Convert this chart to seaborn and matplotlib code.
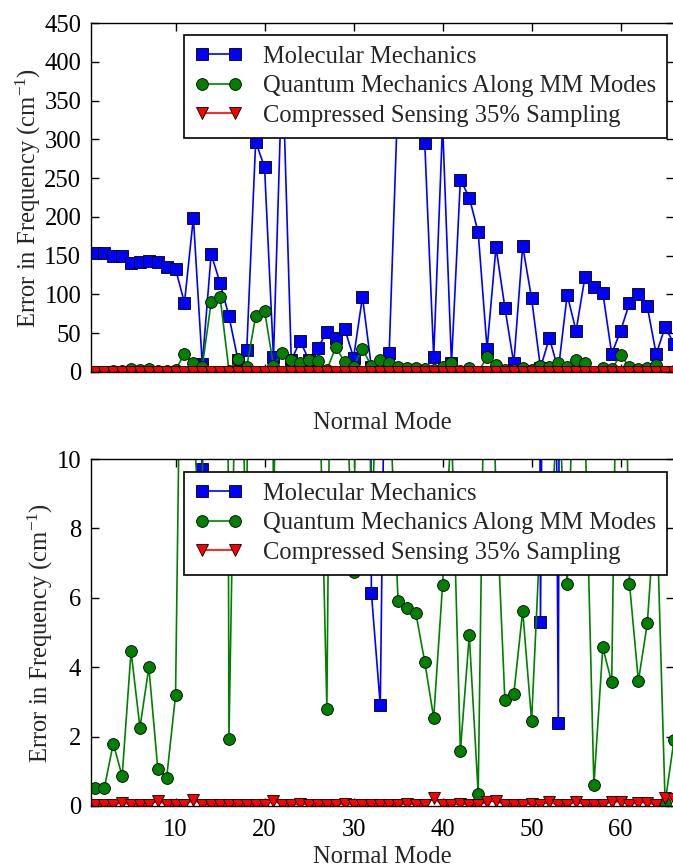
import numpy as np
import pandas as pd
import matplotlib
matplotlib.use("Agg")
import matplotlib.pyplot as plt
import seaborn as sns

modes = list(range(1, 67))

molecular_mechanics = [
    154, 153, 149, 149, 140, 142, 143.5, 142, 136, 133,
    89, 199, 9.7, 152, 115, 72, 16, 29, 297, 264,
    19, 400, 15, 40, 15, 31, 52, 44, 56, 18.5,
    97, 6.15, 2.9, 24, 362, 400, 344, 295, 19, 320,
    11, 248, 225, 180, 30, 161, 83, 11, 162.5, 95,
    5.3, 44, 2.4, 99.6, 53, 123, 110, 102.5, 23.5, 53,
    89, 100.5, 84.5, 23, 58, 36.5,
]

quantum_mm_modes = [
    0.53, 0.52, 1.8, 0.86, 4.46, 2.26, 4.0, 1.08, 0.82, 3.19,
    23, 11, 7, 90, 97, 1.93, 17, 7, 72, 79,
    8, 25, 15, 11, 15.5, 14, 2.8, 32, 13, 6.75,
    30, 7.5, 16, 12, 5.9, 5.7, 5.55, 4.15, 2.54, 6.37,
    11, 1.58, 4.92, 0.36, 19, 9, 3.05, 3.22, 5.63, 2.45,
    8, 7, 12, 6.4, 15, 11, 0.6, 4.57, 3.56, 22,
    6.4, 3.6, 5.26, 9, 0.1, 1.9,
]

compressed_sensing = [
    0.03, 0.03, 0.03, 0.10, 0.04, 0.03, 0.03, 0.15, 0.03, 0.03,
    0.03, 0.18, 0.04, 0.03, 0.03, 0.03, 0.03, 0.03, 0.03, 0.03,
    0.15, 0.03, 0.03, 0.07, 0.03, 0.03, 0.03, 0.03, 0.07, 0.03,
    0.03, 0.03, 0.03, 0.03, 0.03, 0.07, 0.03, 0.03, 0.22, 0.03,
    0.03, 0.07, 0.03, 0.03, 0.12, 0.15, 0.03, 0.03, 0.03, 0.07,
    0.03, 0.12, 0.03, 0.03, 0.12, 0.03, 0.03, 0.03, 0.12, 0.12,
    0.03, 0.10, 0.10, 0.03, 0.22, 0.20,
]

labels = [
    "Molecular Mechanics",
    "Quantum Mechanics Along MM Modes",
    "Compressed Sensing 35% Sampling",
]
top_yticks = [0, 50, 100, 150, 200, 250, 300, 350, 400, 450]
bottom_yticks = [0, 2, 4, 6, 8, 10]
xticks = [10, 20, 30, 40, 50, 60]

sns.set_theme(style="ticks")
FS = 17.7
plt.rcParams["font.family"] = ["Liberation Serif", "DejaVu Serif"]
plt.rcParams["mathtext.fontset"] = "custom"
plt.rcParams["mathtext.rm"] = "Liberation Serif"
plt.rcParams["mathtext.it"] = "Liberation Serif:italic"
plt.rcParams["axes.edgecolor"] = "black"
plt.rcParams["axes.linewidth"] = 1.0

W, H = 673, 867
fig = plt.figure(figsize=(W / 100, H / 100), dpi=100)

def fx(px):
    return px / W

def fy(py):
    return 1 - py / H

left_px, right_px = 91, 674
ax_w = right_px - left_px
ax_top = fig.add_axes([fx(left_px), fy(372), fx(ax_w), (372 - 23) / H])
ax_bot = fig.add_axes([fx(left_px), fy(806), fx(ax_w), (806 - 459) / H])

df = pd.DataFrame({
    "mode": modes,
    "mm": molecular_mechanics,
    "qm": quantum_mm_modes,
    "cs": compressed_sensing,
})

series = [
    ("mm", "s", "#0000ff", labels[0]),
    ("qm", "o", "#008000", labels[1]),
    ("cs", "v", "#ff0000", labels[2]),
]

for ax, ylim, yticks, invisible_xlabels, ax_top_px, ax_h_px, leg_top_px in [
    (ax_top, (0, 450), top_yticks, True, 23, 349, 35),
    (ax_bot, (0, 10), bottom_yticks, False, 459, 347, 472),
]:
    for col, mk, colr, lab in series:
        sns.lineplot(
            data=df, x="mode", y=col, ax=ax, color=colr, marker=mk,
            markersize=8.5, markeredgecolor="black", markeredgewidth=0.6,
            linewidth=1.2, label=lab, estimator=None, sort=False,
        )
    ax.set_xlim(0.5, 66)
    ax.set_ylim(*ylim)
    ax.set_yticks(yticks)
    ax.set_xticks(xticks)
    ax.tick_params(direction="in", length=6, width=1.0, top=True, right=True,
                   labelsize=FS, colors="black")
    ax.tick_params(axis="x", pad=9)
    ax.tick_params(axis="y", pad=7)
    if invisible_xlabels:
        ax.tick_params(axis="x", labelcolor=(1, 1, 1, 0))
    ax.set_xlabel("Normal Mode", fontsize=FS, labelpad=4)
    ax.set_ylabel("Error in Frequency (cm$^{-1}$)", fontsize=FS)
    for sp in ax.spines.values():
        sp.set_visible(True)
        sp.set_color("black")
    leg = ax.legend(
        loc="upper right",
        bbox_to_anchor=((667 - left_px) / ax_w, 1 - (leg_top_px - ax_top_px) / ax_h_px),
        numpoints=2, fontsize=FS, frameon=True, fancybox=False, shadow=False,
        framealpha=1, edgecolor="black", handlelength=1.93, handletextpad=0.85,
        labelspacing=0.29, borderpad=0.44, borderaxespad=0.0,
    )
    leg.get_frame().set_linewidth(1.2)

ax_top.yaxis.set_label_coords(-0.083, 0.5)
ax_bot.yaxis.set_label_coords(-0.061, 0.5)

fig.savefig("out.png", dpi=100)
